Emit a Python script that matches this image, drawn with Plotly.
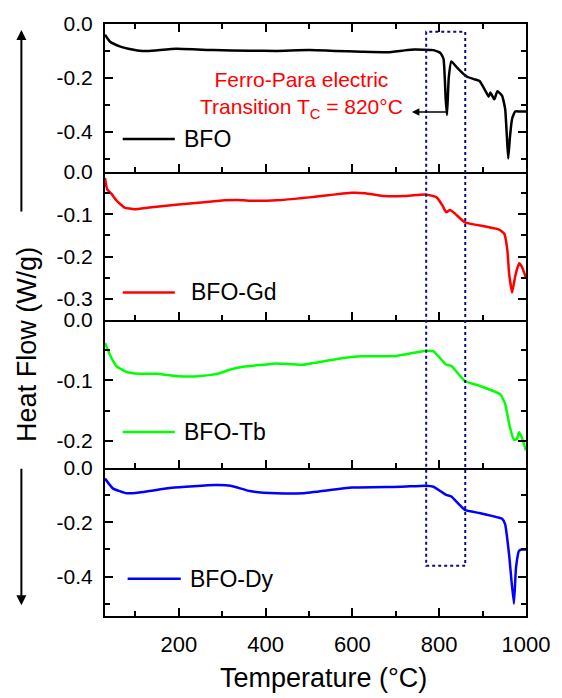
import plotly.graph_objects as go
from plotly.subplots import make_subplots

# ---------------- data ----------------
temp_bfo = [30, 41, 64, 93, 109, 130, 195, 280, 364, 425, 500, 560, 620, 681, 720, 742, 787, 803,
            810, 815, 818, 822, 828, 840, 862, 880, 893, 907, 914, 918, 927, 934, 945, 952, 956,
            959, 963, 968, 975, 985, 1000]
hf_bfo = [-0.040, -0.065, -0.083, -0.095, -0.099, -0.100, -0.092, -0.097, -0.099, -0.100, -0.097,
          -0.100, -0.103, -0.105, -0.098, -0.095, -0.097, -0.108, -0.130, -0.280, -0.338, -0.200,
          -0.139, -0.160, -0.194, -0.205, -0.212, -0.250, -0.270, -0.255, -0.280, -0.250, -0.267,
          -0.316, -0.420, -0.500, -0.420, -0.352, -0.325, -0.325, -0.325]

temp_gd = [30, 35, 46, 57, 75, 98, 132, 199, 306, 335, 364, 425, 500, 599, 629, 674, 719, 769,
           794, 808, 816, 825, 837, 859, 907, 938, 950, 957, 961, 968, 975, 984, 990, 1000]
hf_gd = [-0.014, -0.041, -0.053, -0.068, -0.084, -0.088, -0.084, -0.077, -0.067, -0.066, -0.068,
         -0.067, -0.060, -0.049, -0.050, -0.057, -0.057, -0.053, -0.060, -0.080, -0.095, -0.090,
         -0.099, -0.119, -0.129, -0.136, -0.146, -0.184, -0.239, -0.285, -0.247, -0.216, -0.223,
         -0.250]

temp_tb = [30, 41, 57, 80, 109, 148, 199, 245, 290, 319, 351, 396, 425, 486, 568, 622, 697, 769,
           787, 816, 828, 859, 893, 941, 952, 963, 972, 979, 984, 990, 1000]
hf_tb = [-0.038, -0.057, -0.077, -0.086, -0.089, -0.089, -0.093, -0.093, -0.089, -0.082, -0.077,
         -0.074, -0.072, -0.074, -0.064, -0.060, -0.060, -0.051, -0.052, -0.074, -0.076, -0.101,
         -0.109, -0.123, -0.139, -0.178, -0.198, -0.197, -0.186, -0.194, -0.216]

temp_dy = [30, 48, 80, 109, 184, 283, 319, 364, 425, 486, 599, 712, 769, 787, 816, 828, 859, 893,
           945, 952, 961, 972, 977, 984, 990, 1000]
hf_dy = [-0.039, -0.075, -0.093, -0.090, -0.073, -0.063, -0.065, -0.085, -0.093, -0.093, -0.072,
         -0.069, -0.065, -0.069, -0.099, -0.105, -0.154, -0.166, -0.187, -0.208, -0.318, -0.500,
         -0.366, -0.305, -0.300, -0.300]

names = ["BFO", "BFO-Gd", "BFO-Tb", "BFO-Dy"]
temps = [temp_bfo, temp_gd, temp_tb, temp_dy]
flows = [hf_bfo, hf_gd, hf_tb, hf_dy]
colors = ["#000000", "#FF0000", "#00FF00", "#0000FF"]

y_ranges = [[-0.55, 0], [-0.35, 0], [-0.245, 0], [-0.545, 0]]
y_major = [[0, -0.2, -0.4], [0, -0.1, -0.2, -0.3], [0, -0.1, -0.2], [0, -0.2, -0.4]]
y_minor = [[-0.1, -0.3, -0.5], [-0.05, -0.15, -0.25], [-0.05, -0.15], [-0.1, -0.3, -0.5]]
x_major = [200, 400, 600, 800, 1000]
x_minor = [100, 300, 500, 700, 900]
x_range = [30, 1000]

tc_box = [770, 860]        # dotted box around the transition
tc_value = 820

FONT = "Liberation Sans, Arial, sans-serif"

# ---------------- figure ----------------
fig = make_subplots(rows=4, cols=1, shared_xaxes=True, vertical_spacing=0)

for i in range(4):
    fig.add_trace(go.Scatter(x=temps[i], y=flows[i], mode="lines", name=names[i],
                             line=dict(color=colors[i], width=2.5, shape="spline", smoothing=0.4),
                             showlegend=False), row=i + 1, col=1)

for i in range(4):
    r = i + 1
    fig.update_yaxes(range=y_ranges[i], tickvals=y_major[i],
                     ticktext=[f"{v:.1f}" for v in y_major[i]],
                     ticks="inside", ticklen=8, tickwidth=1.5, tickcolor="black",
                     minor=dict(tickvals=y_minor[i], ticks="inside", ticklen=5, tickwidth=1.5,
                                tickcolor="black"),
                     showline=True, linewidth=2, linecolor="black", mirror="ticks",
                     showgrid=False, zeroline=False,
                     tickfont=dict(family=FONT, size=21, color="black"),
                     ticklabelstandoff=6,
                     row=r, col=1)
    fig.update_xaxes(range=x_range, tickvals=x_major,
                     ticks="inside", ticklen=8, tickwidth=1.5, tickcolor="black",
                     minor=dict(tickvals=x_minor, ticks="inside", ticklen=5, tickwidth=1.5,
                                tickcolor="black"),
                     showline=True, linewidth=2, linecolor="black",
                     mirror="ticks" if r == 1 else False,
                     showgrid=False, zeroline=False,
                     tickfont=dict(family=FONT, size=22, color="black"),
                     ticklabelstandoff=8,
                     row=r, col=1)

# paper geometry helpers (plot area: x 105..533 px, y 14..616 px)
L, R, T, B = 105, 533, 14, 616
def px(xp):
    return (xp - L) / (R - L)
def py(yp):
    return (B - yp) / (B - T)

shapes = []
annotations = []

# legend samples per panel
leg_pos = [(123, 176, 131, 183), (123, 176, 287, 190), (123, 176, 429, 183), (128, 182, 578, 189)]
for i, (x0, x1, yy, xt) in enumerate(leg_pos):
    shapes.append(dict(type="line", xref="paper", yref="paper", x0=px(x0), x1=px(x1),
                       y0=py(yy), y1=py(yy), line=dict(color=colors[i], width=2.5)))
    annotations.append(dict(text=names[i], xref="paper", yref="paper", x=px(xt), y=py(yy),
                            xanchor="left", yanchor="middle", showarrow=False,
                            font=dict(family=FONT, size=23, color="black")))

# dotted transition box
shapes.append(dict(type="rect", xref="x", yref="paper", x0=tc_box[0], x1=tc_box[1],
                   y0=py(565), y1=py(22), line=dict(color="#0A0A8C", width=2, dash="3px,3px")))

# red annotation text
annotations.append(dict(text=f"Ferro-Para electric<br>Transition T<sub>C</sub> = {tc_value}°C",
                        xref="x", yref="y", x=482, y=-0.262, showarrow=False, align="center",
                        font=dict(family=FONT, size=21, color="#FF0000")))
# black arrow pointing left
annotations.append(dict(text="", xref="x", yref="y", x=737, y=-0.327, ax=36, ay=0,
                        showarrow=True, arrowhead=2, arrowsize=1, arrowwidth=1.5,
                        arrowcolor="black"))

# left vertical arrows
annotations.append(dict(text="", xref="paper", yref="paper", x=px(20), y=py(20), ax=0, ay=183,
                        showarrow=True, arrowhead=2, arrowsize=1, arrowwidth=2,
                        arrowcolor="black"))
annotations.append(dict(text="", xref="paper", yref="paper", x=px(20), y=py(605), ax=0, ay=-138,
                        showarrow=True, arrowhead=2, arrowsize=1, arrowwidth=2,
                        arrowcolor="black"))

# axis titles
annotations.append(dict(text="Heat Flow (W/g)", xref="paper", yref="paper", x=px(25), y=py(340),
                        textangle=-90, showarrow=False, xanchor="center", yanchor="middle",
                        font=dict(family=FONT, size=27, color="black")))
annotations.append(dict(text="Temperature (°C)", xref="paper", yref="paper", x=px(327), y=py(679),
                        showarrow=False, xanchor="center", yanchor="middle",
                        font=dict(family=FONT, size=27, color="black")))

fig.update_layout(width=562, height=698, margin=dict(l=L, r=562 - R, t=T, b=698 - B),
                  paper_bgcolor="white", plot_bgcolor="white", shapes=shapes,
                  annotations=annotations, showlegend=False,
                  font=dict(family=FONT, color="black"))

fig.write_html("out.html")
